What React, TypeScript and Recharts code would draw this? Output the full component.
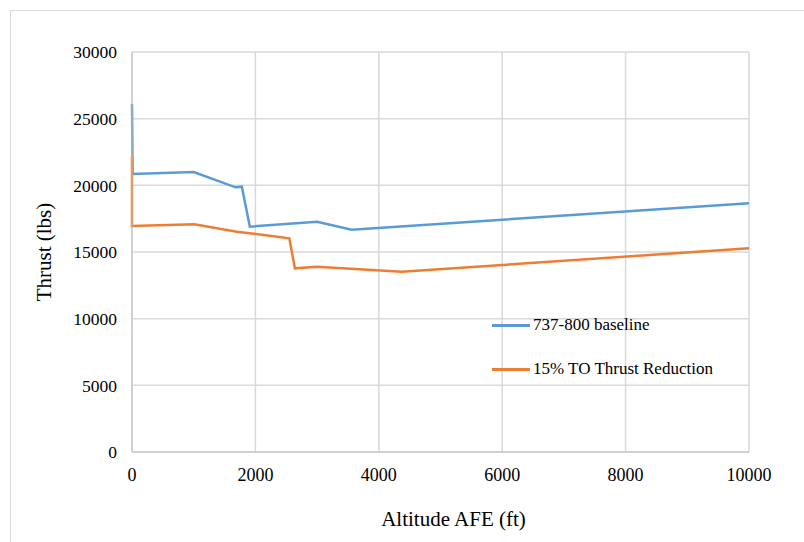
import React from 'react'
import { LineChart, Line, XAxis, YAxis, CartesianGrid } from 'recharts'

// altitude (ft) / thrust (lbs)
const baselineAlt = [0, 10, 1000, 1680, 1780, 1910, 3000, 3560, 10000]
const baselineThrust = [26100, 20850, 21000, 19850, 19900, 16900, 17275, 16675, 18650]

const reducedAlt = [0, 0, 1010, 1700, 2550, 2640, 3000, 4370, 10000]
const reducedThrust = [22200, 16950, 17075, 16525, 16025, 13775, 13900, 13525, 15275]

const xTicks = [0, 2000, 4000, 6000, 8000, 10000]
const yTicks = [0, 5000, 10000, 15000, 20000, 25000, 30000]

const BLUE = '#5b9bd5'
const ORANGE = '#ed7d31'
const FONT = '"Liberation Serif", "Times New Roman", serif'

const toPoints = (xs: number[], ys: number[]) => xs.map((alt, i) => ({ alt, thrust: ys[i] }))

const baseline = toPoints(baselineAlt, baselineThrust)
const reduced = toPoints(reducedAlt, reducedThrust)

const legendItems = [
  { name: '737-800 baseline', color: BLUE },
  { name: '15% TO Thrust Reduction', color: ORANGE },
]

export default function App() {
  return (
    <div style={{ position: 'absolute', left: 0, top: 0, width: 804, height: 542, background: '#fff', overflow: 'hidden', fontFamily: FONT }}>
      {/* outer chart frame, runs off the right and bottom edges */}
      <div style={{ position: 'absolute', left: 10, top: 10, width: 900, height: 700, border: '1px solid #d9d9d9' }} />
      <LineChart width={804} height={542} margin={{ top: 52, right: 55, left: 0, bottom: 0 }} style={{ position: 'absolute', left: 0, top: 0, fontFamily: FONT }}>
        <CartesianGrid stroke="#d9d9d9" strokeWidth={1.5} />
        <XAxis
          dataKey="alt"
          type="number"
          domain={[0, 10000]}
          ticks={xTicks}
          height={90}
          stroke="#bfbfbf"
          tickLine={false}
          tickMargin={10}
          tick={{ fill: '#000', fontSize: 18, fontFamily: FONT }}
          allowDuplicatedCategory={false}
          label={{ value: 'Altitude AFE (ft)', position: 'insideBottom', offset: 16, dx: 13, fill: '#000', fontSize: 21, fontFamily: FONT }}
        />
        <YAxis
          dataKey="thrust"
          type="number"
          domain={[0, 30000]}
          ticks={yTicks}
          width={132}
          stroke="#bfbfbf"
          tickLine={false}
          tickMargin={9}
          tick={{ fill: '#000', fontSize: 17.5, fontFamily: FONT }}
          label={{ value: 'Thrust (lbs)', angle: -90, position: 'center', dx: -22, fill: '#000', fontSize: 21, fontFamily: FONT }}
        />
        <Line data={baseline} dataKey="thrust" name="737-800 baseline" stroke={BLUE} strokeWidth={2.5} dot={false} type="linear" isAnimationActive={false} />
        <Line data={reduced} dataKey="thrust" name="15% TO Thrust Reduction" stroke={ORANGE} strokeWidth={2.5} dot={false} type="linear" isAnimationActive={false} />
      </LineChart>
      {/* legend sits inside the plot area */}
      {legendItems.map((item, i) => (
        <div key={item.name} style={{ position: 'absolute', left: 492, top: 315 + i * 44, display: 'flex', alignItems: 'center', fontSize: 17, color: '#000', whiteSpace: 'nowrap' }}>
          <span style={{ display: 'inline-block', width: 38, height: 3, background: item.color, marginRight: 3 }} />
          {item.name}
        </div>
      ))}
    </div>
  )
}
